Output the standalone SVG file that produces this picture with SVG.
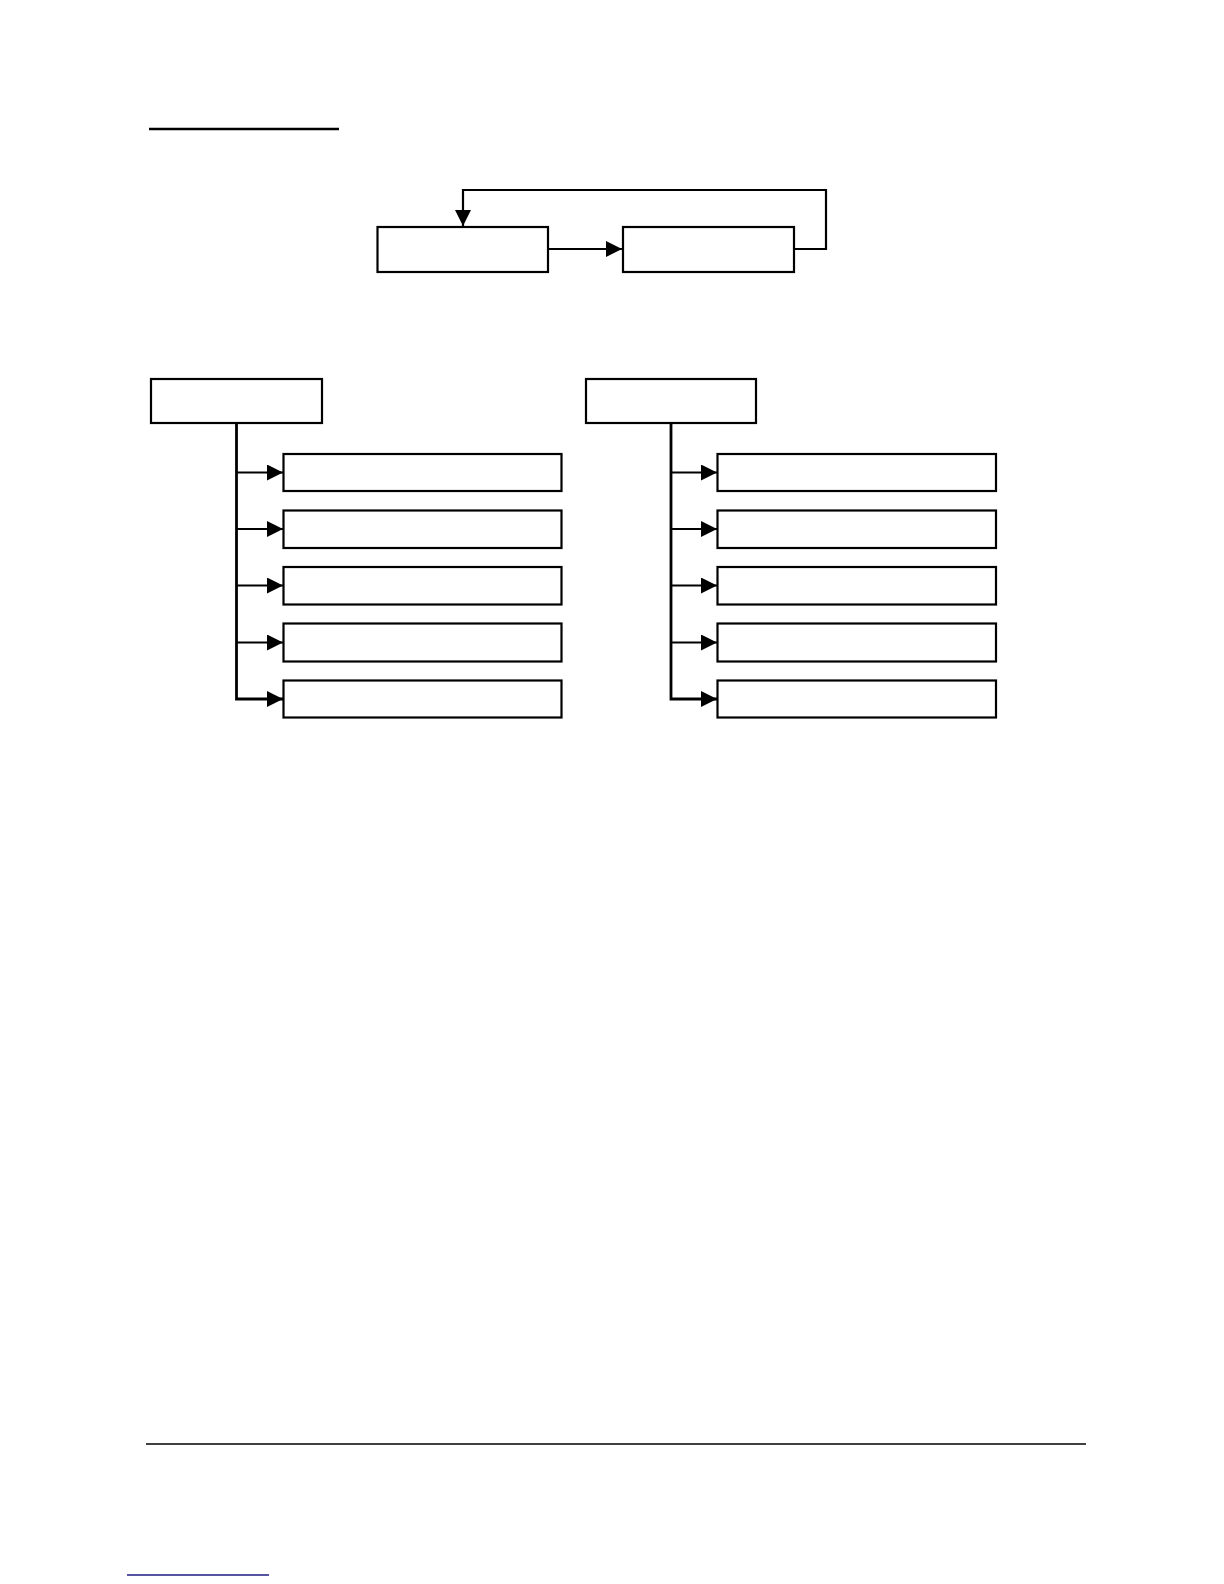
<svg xmlns="http://www.w3.org/2000/svg" width="1224" height="1584" viewBox="0 0 1224 1584">
<style>
.box{fill:#fff;stroke:#000;stroke-width:2.2}
.ln{fill:none;stroke:#000;stroke-width:2.2}
.trunk{fill:none;stroke:#000;stroke-width:2.8;stroke-linejoin:miter}
.br{fill:none;stroke:#000;stroke-width:2}
</style>
<defs>
<marker id="ah" markerUnits="userSpaceOnUse" markerWidth="17" markerHeight="17" viewBox="0 0 17 17" refX="16" refY="8" orient="auto">
<path d="M0,0 L16,8 L0,16 z" fill="#000"/>
</marker>
</defs>
<rect width="1224" height="1584" fill="#fff"/>
<line x1="149" y1="129" x2="339" y2="129" stroke="#000" stroke-width="2.6"/>
<line x1="146" y1="1444" x2="1086" y2="1444" stroke="#000" stroke-width="1.6"/>
<line x1="127" y1="1575" x2="269" y2="1575" stroke="#1c1c80" stroke-width="1.3"/>
<g id="connectors">
<line class="ln" x1="548" y1="249" x2="622" y2="249" marker-end="url(#ah)"/>
<polyline class="ln" points="794,249 826,249 826,190 463,190 463,226" marker-end="url(#ah)"/>
<polyline class="trunk" points="236.5,423 236.5,699 283,699" marker-end="url(#ah)"/>
<line class="br" x1="236.5" y1="472.5" x2="283" y2="472.5" marker-end="url(#ah)"/>
<line class="br" x1="236.5" y1="529" x2="283" y2="529" marker-end="url(#ah)"/>
<line class="br" x1="236.5" y1="585.5" x2="283" y2="585.5" marker-end="url(#ah)"/>
<line class="br" x1="236.5" y1="642.5" x2="283" y2="642.5" marker-end="url(#ah)"/>
<polyline class="trunk" points="671,423 671,699 717,699" marker-end="url(#ah)"/>
<line class="br" x1="671" y1="472.5" x2="717" y2="472.5" marker-end="url(#ah)"/>
<line class="br" x1="671" y1="529" x2="717" y2="529" marker-end="url(#ah)"/>
<line class="br" x1="671" y1="585.5" x2="717" y2="585.5" marker-end="url(#ah)"/>
<line class="br" x1="671" y1="642.5" x2="717" y2="642.5" marker-end="url(#ah)"/>
</g>
<g id="nodeA"><rect class="box" x="377.5" y="227" width="170.5" height="45"/></g>
<g id="nodeB"><rect class="box" x="623" y="227" width="171" height="45"/></g>
<g id="rootL"><rect class="box" x="151" y="379" width="171" height="44"/></g>
<g id="rootR"><rect class="box" x="586" y="379" width="170" height="44"/></g>
<g id="L1"><rect class="box" x="283.5" y="454" width="278" height="37"/></g>
<g id="L2"><rect class="box" x="283.5" y="510.5" width="278" height="37.5"/></g>
<g id="L3"><rect class="box" x="283.5" y="567" width="278" height="37.5"/></g>
<g id="L4"><rect class="box" x="283.5" y="623.5" width="278" height="38"/></g>
<g id="L5"><rect class="box" x="283.5" y="680.5" width="278" height="37"/></g>
<g id="R1"><rect class="box" x="717.5" y="454" width="278.5" height="37"/></g>
<g id="R2"><rect class="box" x="717.5" y="510.5" width="278.5" height="37.5"/></g>
<g id="R3"><rect class="box" x="717.5" y="567" width="278.5" height="37.5"/></g>
<g id="R4"><rect class="box" x="717.5" y="623.5" width="278.5" height="38"/></g>
<g id="R5"><rect class="box" x="717.5" y="680.5" width="278.5" height="37"/></g>
</svg>
